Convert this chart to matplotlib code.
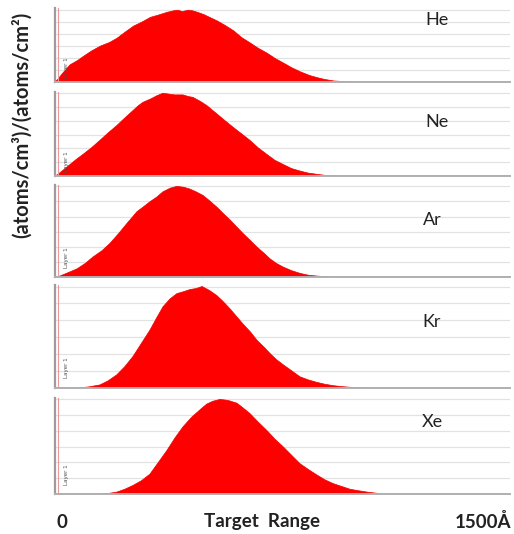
import matplotlib
matplotlib.use("Agg")
import matplotlib.pyplot as plt
import numpy as np

# ---- data (depth in Angstrom, relative ion concentration) ----
gases = ["He", "Ne", "Ar", "Kr", "Xe"]

depth_he = [0, 8, 25, 50, 75, 95, 120, 150, 180, 205, 230, 260, 285, 315, 340, 370, 390, 405, 420, 440,
            455, 470, 490, 510, 535, 560, 590, 615, 645, 670, 700, 725, 755, 780, 810, 840, 865, 890,
            920, 950, 975, 1000, 1500]
vals_he = [0, 0.03, 0.12, 0.24, 0.30, 0.36, 0.43, 0.50, 0.55, 0.61, 0.69, 0.78, 0.83, 0.90, 0.93, 0.97,
           0.99, 1.0, 0.98, 1.0, 0.99, 0.97, 0.94, 0.90, 0.85, 0.79, 0.71, 0.62, 0.54, 0.47, 0.40, 0.33,
           0.26, 0.20, 0.14, 0.09, 0.06, 0.035, 0.014, 0.006, 0.002, 0, 0]

depth_ne = [0, 10, 30, 50, 70, 92, 120, 148, 175, 204, 230, 257, 275, 290, 315, 336, 356, 375, 395, 422,
            440, 455, 480, 501, 534, 560, 587, 615, 643, 670, 699, 725, 752, 780, 808, 835, 864, 890,
            917, 1500]
vals_ne = [0, 0.02, 0.08, 0.14, 0.20, 0.26, 0.34, 0.43, 0.52, 0.61, 0.70, 0.79, 0.85, 0.89, 0.93, 0.97,
           1.0, 0.99, 0.98, 0.98, 0.96, 0.95, 0.90, 0.85, 0.75, 0.67, 0.59, 0.51, 0.43, 0.34, 0.26, 0.19,
           0.14, 0.09, 0.06, 0.035, 0.02, 0.008, 0, 0]

depth_ar = [0, 16, 45, 73, 100, 125, 155, 181, 210, 237, 255, 270, 290, 313, 335, 356, 380, 402, 425, 445,
            465, 488, 510, 534, 555, 577, 600, 620, 645, 666, 690, 709, 730, 752, 780, 808, 835, 864,
            890, 917, 1500]
vals_ar = [0, 0.01, 0.05, 0.09, 0.15, 0.22, 0.29, 0.37, 0.48, 0.59, 0.66, 0.72, 0.77, 0.83, 0.88, 0.94,
           0.98, 1.0, 0.99, 0.97, 0.94, 0.90, 0.84, 0.77, 0.70, 0.63, 0.55, 0.48, 0.40, 0.33, 0.26, 0.20,
           0.15, 0.11, 0.07, 0.04, 0.02, 0.01, 0.004, 0, 0]

depth_kr = [0, 73, 110, 148, 175, 204, 230, 257, 285, 313, 335, 356, 380, 402, 425, 445, 465, 485, 510,
            534, 555, 577, 600, 620, 645, 666, 690, 709, 730, 752, 780, 808, 835, 864, 890, 917, 945,
            973, 1029, 1500]
vals_kr = [0, 0, 0.01, 0.03, 0.07, 0.13, 0.21, 0.31, 0.44, 0.57, 0.69, 0.80, 0.88, 0.93, 0.95, 0.97,
           0.98, 1.0, 0.96, 0.91, 0.85, 0.78, 0.70, 0.63, 0.55, 0.47, 0.40, 0.34, 0.28, 0.23, 0.17, 0.11,
           0.08, 0.055, 0.037, 0.023, 0.014, 0.007, 0, 0]

depth_xe = [0, 148, 175, 204, 230, 257, 285, 313, 340, 369, 395, 422, 450, 478, 500, 520, 544, 570, 600,
            620, 643, 670, 699, 725, 752, 780, 808, 835, 864, 890, 917, 945, 973, 1000, 1029, 1081, 1500]
vals_xe = [0, 0, 0.005, 0.02, 0.05, 0.09, 0.14, 0.21, 0.33, 0.46, 0.59, 0.71, 0.81, 0.89, 0.95, 0.98,
           1.0, 0.99, 0.96, 0.91, 0.85, 0.76, 0.67, 0.58, 0.50, 0.41, 0.32, 0.26, 0.20, 0.15, 0.11, 0.08,
           0.05, 0.035, 0.02, 0, 0]

depths = [depth_he, depth_ne, depth_ar, depth_kr, depth_xe]
values = [vals_he, vals_ne, vals_ar, vals_kr, vals_xe]

x_max = 1500
x_labels = ["0", "Target  Range", "1500Å"]
y_label = "(atoms/cm³)/(atoms/cm²)"

# ---- layout ----
W, H = 514, 534
fig = plt.figure(figsize=(W / 100, H / 100), dpi=100)
fig.patch.set_facecolor("white")

left_px, right_px = 55, 510
panels_px = [(8, 82), (92, 176), (185, 277), (285, 388), (398, 494)]
ytops = [1.03, 1.015, 1.015, 1.015, 1.015]
label_pos = [(437, 20), (437, 122), (432, 220), (432, 322), (432, 422)]

font = ["Lato", "DejaVu Sans"]

for i, g in enumerate(gases):
    top, bot = panels_px[i]
    ax = fig.add_axes([left_px / W, 1 - bot / H, (right_px - left_px) / W, (bot - top) / H])
    ax.set_xlim(0, x_max)
    ax.set_ylim(0, ytops[i])
    ax.set_yticks(np.linspace(0, 1.0, 7)[1:])
    ax.grid(axis="y", color="#e2e2e2", lw=0.9)
    ax.set_axisbelow(True)
    ax.fill_between(depths[i], values[i], 0, facecolor="#ff0000", lw=0, zorder=3)
    ax.plot(depths[i], values[i], color="#f00000", lw=0.5, zorder=3)
    ax.set_xticks([])
    ax.tick_params(left=False, labelleft=False)
    for s in ["top", "right"]:
        ax.spines[s].set_visible(False)
    ax.spines["left"].set_color("#a09aa0")
    ax.spines["left"].set_linewidth(1.6)
    ax.spines["bottom"].set_color("#b0b0b0")
    ax.spines["bottom"].set_linewidth(1.4)
    ax.spines["bottom"].set_zorder(6)
    ax.axvline(9, color="#e89a9a", lw=0.8, zorder=4)
    ax.text(38, 0.05 if i < 2 else 0.1, "Layer 1", rotation=90, fontsize=4, color="#505050",
            ha="center", va="bottom", zorder=5)
    lx, ly = label_pos[i]
    fig.text(lx / W, 1 - ly / H, g, fontsize=13, family=font, ha="center", va="center",
             color="#222222")

# axis labels
fig.text(62 / W, 1 - 522 / H, x_labels[0], fontsize=13.5, fontweight="bold", family=font,
         ha="center", va="center", color="#222222")
fig.text(262 / W, 1 - 522 / H, x_labels[1], fontsize=13.5, fontweight="bold", family=font,
         ha="center", va="center", color="#222222")
fig.text(511 / W, 1 - 522 / H, x_labels[2], fontsize=13.5, fontweight="bold", family=font,
         ha="right", va="center", color="#222222")
fig.text(22 / W, 1 - 125 / H, y_label, fontsize=14.5, fontweight="bold", family=font,
         rotation=90, ha="center", va="center", color="#222222")

fig.savefig("out.png", dpi=100)
